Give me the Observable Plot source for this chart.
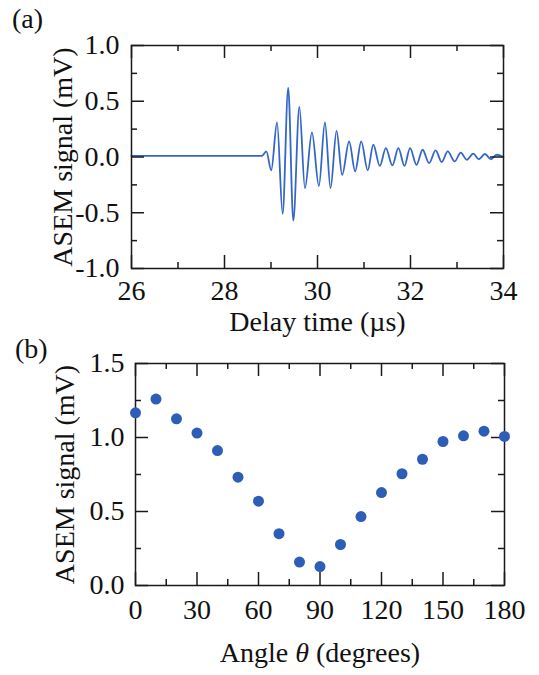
<!DOCTYPE html>
<html><head><meta charset="utf-8">
<script src="https://cdn.jsdelivr.net/npm/d3@7"></script>
<script src="https://cdn.jsdelivr.net/npm/@observablehq/plot@0.6"></script>
<style>
body{margin:0;background:#fff;}
#wrap{position:relative;width:539px;height:675px;font-family:"Liberation Serif","Times New Roman",Tinos,serif;overflow:hidden;}
.tag{position:absolute;font-size:28px;color:#111;line-height:1;}
svg{display:block;}
</style></head><body>
<div id="wrap">
  <div id="top"></div>
  <div id="bot"></div>
  <div class="tag" style="left:12px;top:5px">(a)</div>
  <div class="tag" style="left:15px;top:335px">(b)</div>
</div>
<script>
// ---- Panel (a): waveform, read at extrema off the picture ----
const delayTime = [26.0, 28.80, 28.90, 29.005, 29.13, 29.25, 29.37, 29.48, 29.61, 29.73, 29.88, 30.03, 30.16, 30.28, 30.41, 30.53, 30.68, 30.81, 30.94, 31.08, 31.20, 31.34, 31.47, 31.61, 31.74, 31.87, 31.99, 32.13, 32.26, 32.40, 32.54, 32.67, 32.80, 32.95, 33.08, 33.21, 33.35, 33.47, 33.60, 33.73, 33.85, 34.0];
const asemSignal = [0.01, 0.01, 0.05, -0.12, 0.31, -0.51, 0.62, -0.57, 0.45, -0.28, 0.22, -0.26, 0.31, -0.28, 0.235, -0.16, 0.14, -0.13, 0.14, -0.12, 0.11, -0.08, 0.08, -0.075, 0.08, -0.08, 0.08, -0.07, 0.065, -0.055, 0.06, -0.045, 0.05, -0.04, 0.04, -0.025, 0.03, -0.02, 0.027, -0.02, 0.02, 0.0];
const timeTicks = [26, 28, 30, 32, 34];
const timeMinor = [27, 29, 31, 33];
const sigTicksA = [-1, -0.5, 0, 0.5, 1];
const sigMinorA = [-0.75, -0.25, 0.25, 0.75];

// ---- Panel (b): angle dependence ----
const angles = [0, 10, 20, 30, 40, 50, 60, 70, 80, 90, 100, 110, 120, 130, 140, 150, 160, 170, 180];
const angleSignal = [1.167, 1.26, 1.126, 1.03, 0.912, 0.732, 0.57, 0.35, 0.158, 0.128, 0.277, 0.466, 0.628, 0.755, 0.853, 0.973, 1.011, 1.043, 1.007];
const angleTicks = [0, 30, 60, 90, 120, 150, 180];
const angleMinor = [15, 45, 75, 105, 135, 165];
const sigTicksB = [0, 0.5, 1.0, 1.5];
const sigMinorB = [0.25, 0.75, 1.25];

const ink = "#1a1a1a";
const lineBlue = "#3466c8";
const dotBlue = "#2d5db6";
const MAJ = 13, MIN = 6;
const FS = 28;
const style = {fontFamily: '"Liberation Serif", "Times New Roman", Tinos, serif', fontSize: FS + "px", color: "#111", background: "white", overflow: "visible"};

function frameTicks(xMaj, xMin, yMaj, yMin, iw, ih) {
  const o = {stroke: ink, strokeWidth: 1.5};
  return [
    Plot.ruleX(xMaj, {...o, insetTop: ih - MAJ}),
    Plot.ruleX(xMaj, {...o, insetBottom: ih - MAJ}),
    Plot.ruleX(xMin, {...o, insetTop: ih - MIN}),
    Plot.ruleX(xMin, {...o, insetBottom: ih - MIN}),
    Plot.ruleY(yMaj, {...o, insetRight: iw - MAJ}),
    Plot.ruleY(yMaj, {...o, insetLeft: iw - MAJ}),
    Plot.ruleY(yMin, {...o, insetRight: iw - MIN}),
    Plot.ruleY(yMin, {...o, insetLeft: iw - MIN})
  ];
}

// Top panel
const A = {w: 539, h: 340, mt: 45, mb: 72, ml: 131, mr: 36};
const aiw = A.w - A.ml - A.mr, aih = A.h - A.mt - A.mb;
const wave = delayTime.map((t, i) => ({t, v: asemSignal[i]}));
const plotA = Plot.plot({
  width: A.w, height: A.h, marginTop: A.mt, marginBottom: A.mb, marginLeft: A.ml, marginRight: A.mr,
  style,
  x: {domain: [26, 34]},
  y: {domain: [-1, 1]},
  marks: [
    Plot.line(wave, {x: "t", y: "v", curve: "monotone-x", stroke: lineBlue, strokeWidth: 1.8}),
    ...frameTicks(timeTicks, timeMinor, sigTicksA, sigMinorA, aiw, aih),
    Plot.frame({stroke: ink, strokeWidth: 1.5}),
    Plot.axisX({ticks: timeTicks, tickSize: 0, tickPadding: 12, tickFormat: d => String(d), fontSize: FS,
      label: "Delay time (µs)", labelAnchor: "center", labelOffset: 62, labelArrow: "none"}),
    Plot.axisY({ticks: sigTicksA, tickSize: 0, tickPadding: 12, tickFormat: d => d.toFixed(1), fontSize: FS,
      label: "ASEM signal (mV)", labelAnchor: "center", labelOffset: 79, labelArrow: "none"})
  ]
});
document.getElementById("top").appendChild(plotA);

// Bottom panel
const B = {w: 539, h: 335, mt: 23, mb: 90, ml: 135, mr: 35};
const biw = B.w - B.ml - B.mr, bih = B.h - B.mt - B.mb;
const pts = angles.map((a, i) => ({a, s: angleSignal[i]}));
const plotB = Plot.plot({
  width: B.w, height: B.h, marginTop: B.mt, marginBottom: B.mb, marginLeft: B.ml, marginRight: B.mr,
  style,
  x: {domain: [0, 180]},
  y: {domain: [0, 1.5]},
  marks: [
    ...frameTicks(angleTicks, angleMinor, sigTicksB, sigMinorB, biw, bih),
    Plot.frame({stroke: ink, strokeWidth: 1.5}),
    Plot.dot(pts, {x: "a", y: "s", r: 5.5, fill: dotBlue, stroke: "none"}),
    Plot.axisX({ticks: angleTicks, tickSize: 0, tickPadding: 14, tickFormat: d => String(d), fontSize: FS,
      label: "Angle θ (degrees)", labelAnchor: "center", labelOffset: 76, labelArrow: "none"}),
    Plot.axisY({ticks: sigTicksB, tickSize: 0, tickPadding: 11, tickFormat: d => d.toFixed(1), fontSize: FS,
      label: "ASEM signal (mV)", labelAnchor: "center", labelOffset: 81, labelArrow: "none"})
  ]
});
document.getElementById("bot").appendChild(plotB);

// italic theta
for (const t of plotB.querySelectorAll("text")) {
  if (t.textContent.includes("θ") && t.children.length === 0) {
    const parts = t.textContent.split("θ");
    t.textContent = "";
    const ns = "http://www.w3.org/2000/svg";
    const s1 = document.createElementNS(ns, "tspan"); s1.textContent = parts[0];
    const s2 = document.createElementNS(ns, "tspan"); s2.textContent = "θ"; s2.setAttribute("font-style", "italic");
    const s3 = document.createElementNS(ns, "tspan"); s3.textContent = parts[1];
    t.append(s1, s2, s3);
  }
}
</script>
</body></html>
